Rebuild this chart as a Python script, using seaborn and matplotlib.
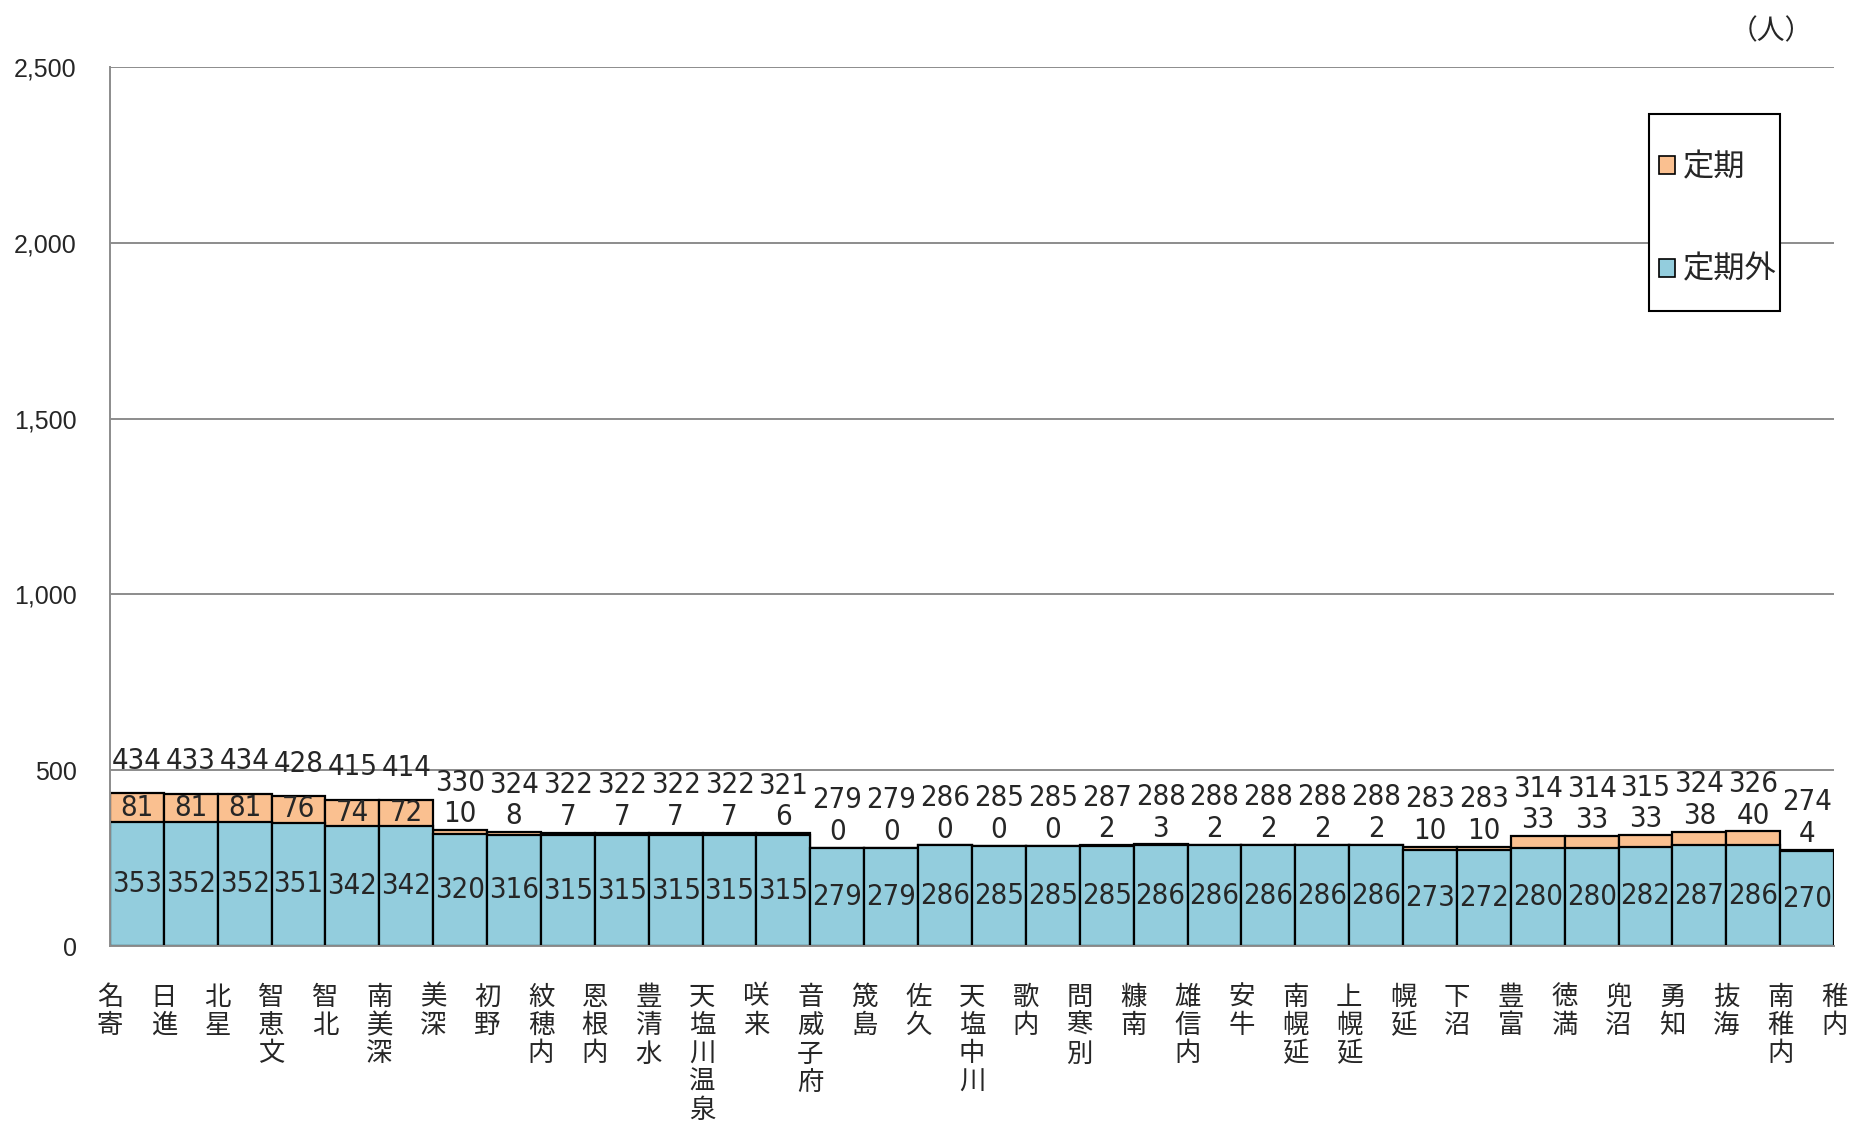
import numpy as np
import pandas as pd
import seaborn as sns
import matplotlib.pyplot as plt
from matplotlib import font_manager
from matplotlib.patches import Patch, Rectangle

# 駅名（区間の境界）
stations = ["名寄", "日進", "北星", "智恵文", "智北", "南美深", "美深", "初野", "紋穂内",
            "恩根内", "豊清水", "天塩川温泉", "咲来", "音威子府", "筬島", "佐久", "天塩中川",
            "歌内", "問寒別", "糠南", "雄信内", "安牛", "南幌延", "上幌延", "幌延", "下沼",
            "豊富", "徳満", "兜沼", "勇知", "抜海", "南稚内", "稚内"]

# 区間ごとの人数
teikigai = [353, 352, 352, 351, 342, 342, 320, 316, 315, 315, 315, 315, 315, 279, 279, 286,
            285, 285, 285, 286, 286, 286, 286, 286, 273, 272, 280, 280, 282, 287, 286, 270]
teiki = [81, 81, 81, 76, 74, 72, 10, 8, 7, 7, 7, 7, 6, 0, 0, 0,
         0, 0, 2, 3, 2, 2, 2, 2, 10, 10, 33, 33, 33, 38, 40, 4]
totals = [434, 433, 434, 428, 415, 414, 330, 324, 322, 322, 322, 322, 321, 279, 279, 286,
          285, 285, 287, 288, 288, 288, 288, 288, 283, 283, 314, 314, 315, 324, 326, 274]

yticks = [0, 500, 1000, 1500, 2000, 2500]

df = pd.DataFrame({"区間": range(len(teikigai)), "定期外": teikigai, "定期": teiki})
df["合計"] = df["定期外"] + df["定期"]

ORANGE = "#FAC090"
BLUE = "#93CDDD"
GRID = "#8c8c8c"

sns.set_style("white")
plt.rcParams["font.family"] = ["Liberation Sans", "Noto Sans CJK JP", "DejaVu Sans"]
jp_font = ["Noto Sans CJK JP", "DejaVu Sans"]

# 幅の狭い数字フォントがあれば使う
num_prop = font_manager.FontProperties(family="Liberation Sans", size=19)
for f in font_manager.fontManager.ttflist:
    if ("Narrow" in f.name or "Condensed" in f.name or f.stretch == "condensed") \
            and "Bold" not in f.fname and "Oblique" not in f.fname and "Italic" not in f.fname:
        num_prop = font_manager.FontProperties(fname=f.fname, size=21)
        break

fig = plt.figure(figsize=(18.63, 11.3), dpi=100)
ax = fig.add_axes([0.059, 0.1628, 0.9255, 0.7779])

sns.barplot(data=df, x="区間", y="合計", color=ORANGE, saturation=1, width=1,
            edgecolor="black", linewidth=1.6, errorbar=None, ax=ax)
sns.barplot(data=df, x="区間", y="定期外", color=BLUE, saturation=1, width=1,
            edgecolor="black", linewidth=1.6, errorbar=None, ax=ax)

# データラベル
for i, (g, t, tot) in enumerate(zip(teikigai, teiki, totals)):
    ax.text(i, g / 2, str(g), ha="center", va="center", fontproperties=num_prop)
    oy = g + t / 2 if t > 50 else g + t + 45
    ax.text(i, oy, str(t), ha="center", va="center", fontproperties=num_prop)
    ty = max(g + t + 92, oy + 90)
    ax.text(i, ty, str(tot), ha="center", va="center", fontproperties=num_prop)

ax.set_xlim(-0.5, len(teikigai) - 0.5)
ax.set_ylim(0, 2500)
ax.set_xticks(np.arange(len(stations)) - 0.5)
ax.set_xticklabels(["\n".join(s) for s in stations], family=jp_font, fontsize=19,
                   va="top", linespacing=1.07)
ax.set_yticks(yticks)
ax.set_yticklabels([f"{v:,}" for v in yticks], fontsize=18)
ax.set_xlabel("")
ax.set_ylabel("")

ax.yaxis.grid(True, color=GRID, lw=1.4)
ax.set_axisbelow(True)
for side in ["top", "right"]:
    ax.spines[side].set_visible(False)
for side in ["left", "bottom"]:
    ax.spines[side].set_color(GRID)
    ax.spines[side].set_linewidth(1.4)
ax.tick_params(axis="x", direction="out", length=7, width=1.4, color=GRID, pad=20)
ax.tick_params(axis="y", direction="out", length=6, width=1.4, color=GRID, pad=18)

# 凡例
frame = Rectangle((1649 / 1863, 1 - 311 / 1130), 131 / 1863, 197 / 1130,
                  transform=fig.transFigure, facecolor="white", edgecolor="black",
                  lw=1.5, zorder=4, clip_on=False)
ax.add_patch(frame)
handles = [Patch(facecolor=ORANGE, edgecolor="black", lw=1.2),
           Patch(facecolor=BLUE, edgecolor="black", lw=1.2)]
leg = ax.legend(handles, ["定期", "定期外"], loc="upper left", bbox_to_anchor=(0.8905, 0.866),
                bbox_transform=fig.transFigure, frameon=False,
                prop={"family": jp_font, "size": 22.5}, handlelength=0.5, handleheight=0.5,
                handletextpad=0.25, labelspacing=2.25, borderpad=0, borderaxespad=0)
leg.set_zorder(6)

fig.text(0.951, 0.972, "（人）", ha="center", va="center", fontsize=20, family=jp_font)

fig.savefig("out.png", dpi=100)
